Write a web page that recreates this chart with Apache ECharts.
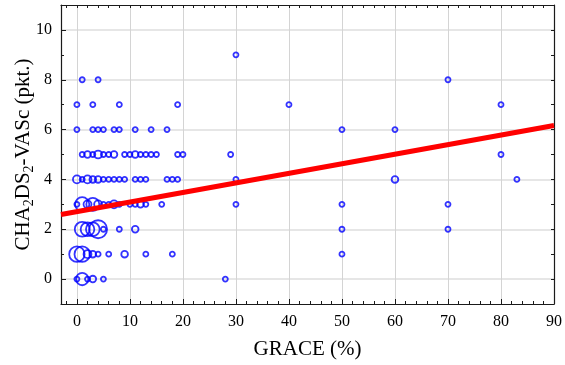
<!DOCTYPE html>
<html>
<head>
<meta charset="utf-8">
<script src="https://cdn.jsdelivr.net/npm/echarts@6/dist/echarts.min.js"></script>
<style>html,body{margin:0;padding:0;background:#fff;}#c{width:565px;height:365px;}</style>
</head>
<body>
<div id="c"></div>
<script>
// GRACE (%) values of each bubble
const graceX = [
  30,
  1, 4, 70,
  0, 3, 8, 19, 40, 80,
  0, 3, 4, 5, 7, 8, 11, 14, 17, 50, 60,
  1, 2, 3, 4, 5, 6, 7, 9, 10, 11, 12, 13, 14, 15, 19, 20, 29, 80,
  0, 1, 2, 3, 4, 5, 6, 7, 8, 9, 11, 12, 13, 17, 18, 19, 30, 60, 83,
  0, 1, 2, 3, 4, 5, 6, 7, 8, 10, 11, 12, 13, 16, 30, 50, 70,
  1, 2, 3, 4, 5, 8, 11, 50, 70,
  0, 1, 2, 3, 4, 6, 9, 13, 18, 50,
  0, 1, 2, 3, 5, 28
];
// CHA2DS2-VASc score of each bubble
const scoreY = [
  9,
  8, 8, 8,
  7, 7, 7, 7, 7, 7,
  6, 6, 6, 6, 6, 6, 6, 6, 6, 6, 6,
  5, 5, 5, 5, 5, 5, 5, 5, 5, 5, 5, 5, 5, 5, 5, 5, 5, 5,
  4, 4, 4, 4, 4, 4, 4, 4, 4, 4, 4, 4, 4, 4, 4, 4, 4, 4, 4,
  3, 3, 3, 3, 3, 3, 3, 3, 3, 3, 3, 3, 3, 3, 3, 3, 3,
  2, 2, 2, 2, 2, 2, 2, 2, 2,
  1, 1, 1, 1, 1, 1, 1, 1, 1, 1,
  0, 0, 0, 0, 0, 0
];
// number of patients at each point (bubble size)
const counts = [
  1,
  1, 1, 1,
  1, 1, 1, 1, 1, 1,
  1, 1, 1, 1, 1, 1, 1, 1, 1, 1, 1,
  1, 2, 1, 3, 1, 1, 2, 1, 1, 2, 1, 1, 1, 1, 1, 1, 1, 1,
  3, 1, 3, 2, 2, 1, 1, 1, 1, 1, 1, 1, 1, 1, 1, 1, 1, 2, 1,
  1, 11, 3, 9, 3, 1, 1, 3, 1, 1, 1, 2, 1, 1, 1, 1, 1,
  12, 10, 10, 18, 1, 1, 2, 1, 1,
  13, 13, 3, 2, 1, 1, 2, 1, 1, 1,
  1, 8, 1, 2, 1, 1
];
// regression line
const fitIntercept = 2.71;
const fitSlope = 0.0384;
const fitX = [-3, 90];

// tick values
const xTickLabels = [0, 10, 20, 30, 40, 50, 60, 70, 80, 90];
const xMinorTicks = [-2, 2, 4, 6, 8, 12, 14, 16, 18, 22, 24, 26, 28, 32, 34, 36, 38, 42, 44, 46, 48, 52, 54, 56, 58, 62, 64, 66, 68, 72, 74, 76, 78, 82, 84, 86, 88];
const xAllTicks = [-2, 0, 2, 4, 6, 8, 10, 12, 14, 16, 18, 20, 22, 24, 26, 28, 30, 32, 34, 36, 38, 40, 42, 44, 46, 48, 50, 52, 54, 56, 58, 60, 62, 64, 66, 68, 70, 72, 74, 76, 78, 80, 82, 84, 86, 88];
const yTickLabels = [0, 2, 4, 6, 8, 10];
const yMinorTicks = [1, 3, 5, 7, 9];
const yAllTicks = [0, 1, 2, 3, 4, 5, 6, 7, 8, 9, 10];

const points = graceX.map((x, i) => [x, scoreY[i], counts[i]]);
const fitLine = fitX.map(x => [x, fitIntercept + fitSlope * x]);

const FONT = 'Liberation Serif';
const frame = { color: '#1a1a1a', width: 1.2 };
const tickStyle = { color: '#1a1a1a', width: 1 };

function extraX(pos, ticks, showLine) {
  return {
    type: 'value', min: -3, max: 90, position: pos, gridIndex: 0,
    axisLine: { show: showLine, onZero: false, lineStyle: frame },
    axisTick: { show: true, inside: true, length: 3, customValues: ticks, lineStyle: tickStyle },
    axisLabel: { show: false },
    splitLine: { show: false }
  };
}
function extraY(pos, ticks, showLine) {
  return {
    type: 'value', min: -1, max: 11, position: pos, gridIndex: 0,
    axisLine: { show: showLine, onZero: false, lineStyle: frame },
    axisTick: { show: true, inside: true, length: 3, customValues: ticks, lineStyle: tickStyle },
    axisLabel: { show: false },
    splitLine: { show: false }
  };
}

const chart = echarts.init(document.getElementById('c'), null, { renderer: 'canvas' });
chart.setOption({
  animation: false,
  backgroundColor: '#ffffff',
  grid: { left: 61, right: 11, top: 5, bottom: 61, containLabel: false, outerBoundsMode: 'none' },
  xAxis: [
    {
      type: 'value', min: -3, max: 90, position: 'bottom',
      name: 'GRACE (%)', nameLocation: 'middle', nameGap: 35, nameMoveOverlap: false,
      nameTextStyle: { fontFamily: FONT, fontSize: 21, color: '#000' },
      axisLine: { show: true, onZero: false, lineStyle: frame },
      axisTick: { show: true, inside: true, length: 5, customValues: xTickLabels, lineStyle: tickStyle },
      axisLabel: { customValues: xTickLabels, fontFamily: FONT, fontSize: 16, color: '#000', margin: 10 },
      splitLine: { show: true, lineStyle: { color: '#d4d4d4', width: 1 } }
    },
    extraX('bottom', xMinorTicks, false),
    extraX('top', xAllTicks, true)
  ],
  yAxis: [
    {
      type: 'value', min: -1, max: 11, position: 'left',
      name: '{n|CHA}{s|2}{n|DS}{s|2}{n|-VASc (pkt.)}',
      nameLocation: 'middle', nameGap: 25, nameRotate: 90, nameMoveOverlap: false,
      nameTextStyle: {
        fontFamily: FONT, fontSize: 21, color: '#000',
        rich: {
          n: { fontFamily: FONT, fontSize: 21, color: '#000' },
          s: { fontFamily: FONT, fontSize: 14, color: '#000', padding: [12, 0, 0, 0] }
        }
      },
      axisLine: { show: true, onZero: false, lineStyle: frame },
      axisTick: { show: true, inside: true, length: 5, customValues: yTickLabels, lineStyle: tickStyle },
      axisLabel: { customValues: yTickLabels, fontFamily: FONT, fontSize: 16, color: '#000', margin: 9 },
      splitLine: { show: true, lineStyle: { color: '#dedede', width: 1.6 } }
    },
    extraY('left', yMinorTicks, false),
    extraY('right', yAllTicks, true)
  ],
  series: [
    {
      type: 'scatter', xAxisIndex: 0, yAxisIndex: 0,
      data: points,
      symbol: 'circle',
      symbolSize: v => 1 + 4 * Math.sqrt(v[2]),
      itemStyle: { color: 'rgba(0,0,0,0)', borderColor: '#0000ff', borderWidth: 1.8 },
      z: 3
    },
    {
      type: 'line', xAxisIndex: 0, yAxisIndex: 0,
      data: fitLine,
      symbol: 'none',
      lineStyle: { color: '#ff0000', width: 5 },
      clip: true,
      z: 4
    }
  ]
});
</script>
</body>
</html>
